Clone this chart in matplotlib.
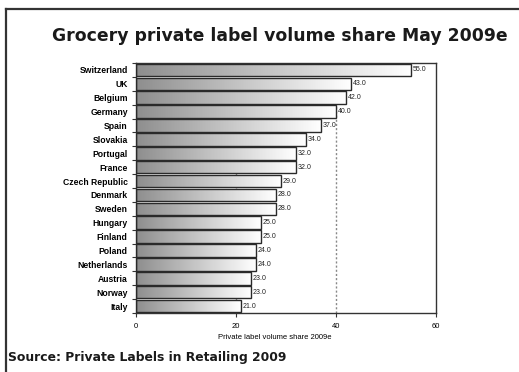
import matplotlib
matplotlib.use("Agg")
import matplotlib.pyplot as plt
import numpy as np
from matplotlib.patches import Rectangle
from matplotlib.lines import Line2D

countries = ["Switzerland", "UK", "Belgium", "Germany", "Spain", "Slovakia", "Portugal",
             "France", "Czech Republic", "Denmark", "Sweden", "Hungary", "Finland",
             "Poland", "Netherlands", "Austria", "Norway", "Italy"]
shares = [55.0, 43.0, 42.0, 40.0, 37.0, 34.0, 32.0, 32.0, 29.0, 28.0, 28.0, 25.0, 25.0,
          24.0, 24.0, 23.0, 23.0, 21.0]
xticks = [0, 20, 40, 60]

W, H = 519, 372
fig = plt.figure(figsize=(W / 100, H / 100), dpi=100)

# outer frame (left and top lines)
fig.add_artist(Line2D([6 / W, 6 / W], [0, 1 - 9 / H], transform=fig.transFigure, color="#333333", lw=1.6))
fig.add_artist(Line2D([6 / W, 1], [1 - 9 / H, 1 - 9 / H], transform=fig.transFigure, color="#333333", lw=1.6))

title = fig.text(279.5 / W, 1 - 36 / H, "Grocery private label volume share May 2009e", ha="center", va="center",
                 fontsize=12.5, fontweight="bold", family="DejaVu Sans", color="#1a1a1a")
source = fig.text(8 / W, 1 - 357 / H, "Source: Private Labels in Retailing 2009", ha="left", va="center",
                  fontsize=8.5, fontweight="bold", family="DejaVu Sans", color="#1a1a1a")

# fit text widths to the reference
renderer = fig.canvas.get_renderer()
for t, target in [(title, 455), (source, 280)]:
    w = t.get_window_extent(renderer).width
    t.set_fontsize(t.get_fontsize() * target / w)

ax = fig.add_axes([136 / W, 1 - 313 / H, 300 / W, 250 / H])
n = len(countries)
y = np.arange(n)
ax.set_xlim(0, 60)
ax.set_ylim(n - 0.5, -0.5)

for x in [20, 40]:
    ax.axvline(x, color="#888888", lw=1, ls=(0, (1.5, 1.5)), zorder=0)

grad = np.linspace(0, 1, 256).reshape(1, -1)
cmap = matplotlib.colors.LinearSegmentedColormap.from_list("g", ["#8e8e8e", "#ffffff"])
bh = 0.9
for yi, v in zip(y, shares):
    rect = Rectangle((0, yi - bh / 2), v, bh, facecolor="none", edgecolor="#2a2a2a", lw=1.0, zorder=3)
    ax.add_patch(rect)
    im = ax.imshow(grad, extent=(0, v, yi + bh / 2, yi - bh / 2), aspect="auto", cmap=cmap,
                   interpolation="bicubic", zorder=2)
    im.set_clip_path(rect)
    ax.text(v + 0.4, yi, f"{v:.1f}", ha="left", va="center", fontsize=5, family="Liberation Sans",
            color="#222222", zorder=4)

ax.set_yticks(y)
ax.set_yticklabels(countries, fontsize=6.2, fontweight="bold", family="Liberation Sans")
ax.set_yticks(np.arange(n + 1) - 0.5, minor=True)
ax.tick_params(axis="y", which="major", length=0, pad=6)
ax.tick_params(axis="y", which="minor", length=3, width=0.8, color="#333333")
ax.set_xticks(xticks)
ax.set_xticklabels([str(t) for t in xticks], fontsize=5.5, family="Liberation Sans")
ax.tick_params(axis="x", length=3, width=0.8, color="#333333", pad=4)
ax.set_xlabel("Private label volume share 2009e", fontsize=5.5, family="Liberation Sans")
ax.xaxis.set_label_coords(0.463, -0.085)
ax.set_xlim(0, 60)
for s in ax.spines.values():
    s.set_color("#333333")
    s.set_linewidth(1.0)

fig.savefig("out.png", dpi=100)
